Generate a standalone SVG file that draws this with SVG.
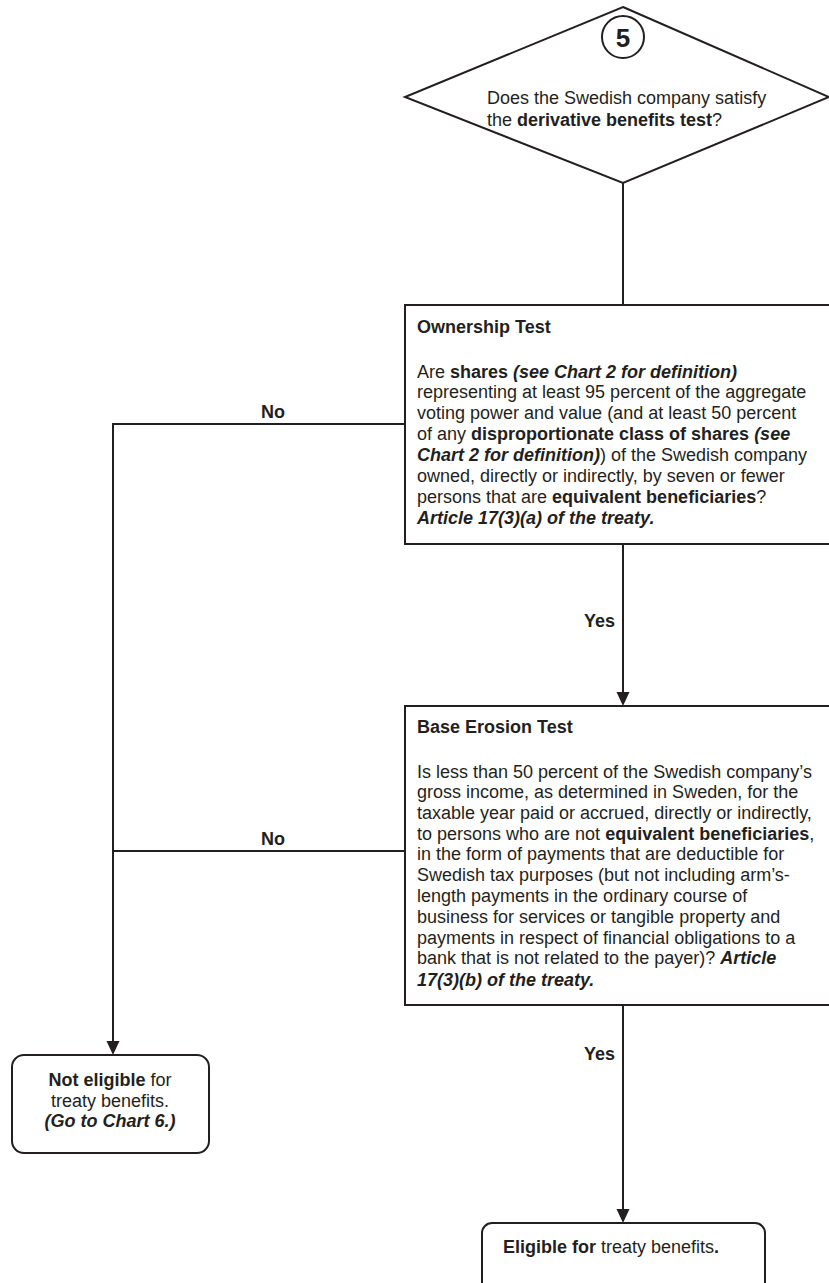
<svg xmlns="http://www.w3.org/2000/svg" width="829" height="1283" viewBox="0 0 829 1283">
  <style>
    .shape { fill: #ffffff; stroke: #231f20; stroke-width: 2; }
    .wire { fill: none; stroke: #231f20; stroke-width: 2; }
    text { font-family: "Liberation Sans", Arial, sans-serif; font-size: 18px; fill: #231f20; }
    .b { font-weight: bold; }
    .bi { font-weight: bold; font-style: italic; }
    .num { font-size: 26px; font-weight: bold; }
  </style>
  <defs>
    <marker id="arrow" markerWidth="14" markerHeight="14" refX="12" refY="7" orient="auto" markerUnits="userSpaceOnUse">
      <path d="M0,0.5 L14,7 L0,13.5 Z" fill="#231f20"/>
    </marker>
  </defs>

  <rect width="829" height="1283" fill="#ffffff"/>

  <g id="connectors">
    <line class="wire" x1="623" y1="183" x2="623" y2="305"/>
    <line class="wire" x1="623" y1="544" x2="623" y2="704" marker-end="url(#arrow)"/>
    <polyline class="wire" points="405,424 113,424 113,1053" marker-end="url(#arrow)"/>
    <line class="wire" x1="405" y1="851" x2="113" y2="851"/>
    <line class="wire" x1="623" y1="1005" x2="623" y2="1221" marker-end="url(#arrow)"/>
    <text class="b" x="273" y="418" text-anchor="middle">No</text>
    <text class="b" x="273" y="845" text-anchor="middle">No</text>
    <text class="b" x="615" y="627" text-anchor="end">Yes</text>
    <text class="b" x="615" y="1060" text-anchor="end">Yes</text>
  </g>

  <g id="decision-5">
    <polygon class="shape" points="623,7 829,97 623,183 405,97"/>
    <circle class="shape" cx="623" cy="37" r="21"/>
    <text class="num" x="623" y="46.5" text-anchor="middle">5</text>
    <text x="487" y="104">Does the Swedish company satisfy</text>
    <text x="487" y="126">the <tspan class="b">derivative benefits test</tspan>?</text>
  </g>

  <g id="ownership-test">
    <rect class="shape" x="405" y="305" width="430" height="239"/>
    <text class="b" x="417" y="333">Ownership Test</text>
    <text x="417" y="378">Are <tspan class="b">shares </tspan><tspan class="bi">(see Chart 2 for definition)</tspan></text>
    <text x="417" y="398">representing at least 95 percent of the aggregate</text>
    <text x="417" y="419">voting power and value (and at least 50 percent</text>
    <text x="417" y="440">of any <tspan class="b">disproportionate class of shares </tspan><tspan class="bi">(see</tspan></text>
    <text x="417" y="461"><tspan class="bi">Chart 2 for definition)</tspan>) of the Swedish company</text>
    <text x="417" y="482">owned, directly or indirectly, by seven or fewer</text>
    <text x="417" y="503">persons that are <tspan class="b">equivalent beneficiaries</tspan>?</text>
    <text class="bi" x="417" y="524">Article 17(3)(a) of the treaty.</text>
  </g>

  <g id="base-erosion-test">
    <rect class="shape" x="405" y="706" width="430" height="299"/>
    <text class="b" x="417" y="733">Base Erosion Test</text>
    <text x="417" y="778">Is less than 50 percent of the Swedish company’s</text>
    <text x="417" y="798">gross income, as determined in Sweden, for the</text>
    <text x="417" y="819">taxable year paid or accrued, directly or indirectly,</text>
    <text x="417" y="840">to persons who are not <tspan class="b">equivalent beneficiaries</tspan>,</text>
    <text x="417" y="860">in the form of payments that are deductible for</text>
    <text x="417" y="881">Swedish tax purposes (but not including arm’s-</text>
    <text x="417" y="902">length payments in the ordinary course of</text>
    <text x="417" y="923">business for services or tangible property and</text>
    <text x="417" y="944">payments in respect of financial obligations to a</text>
    <text x="417" y="964">bank that is not related to the payer)? <tspan class="bi">Article</tspan></text>
    <text class="bi" x="417" y="986">17(3)(b) of the treaty.</text>
  </g>

  <g id="not-eligible">
    <rect class="shape" x="12" y="1055" width="197" height="98" rx="12" ry="12"/>
    <text x="110" y="1086" text-anchor="middle"><tspan class="b">Not eligible</tspan> for</text>
    <text x="110" y="1107" text-anchor="middle">treaty benefits.</text>
    <text class="bi" x="110" y="1127" text-anchor="middle">(Go to Chart 6.)</text>
  </g>

  <g id="eligible">
    <rect class="shape" x="482" y="1223" width="283" height="80" rx="10" ry="10"/>
    <text x="503" y="1253"><tspan class="b">Eligible for</tspan> treaty benefits<tspan class="b">.</tspan></text>
  </g>
</svg>
